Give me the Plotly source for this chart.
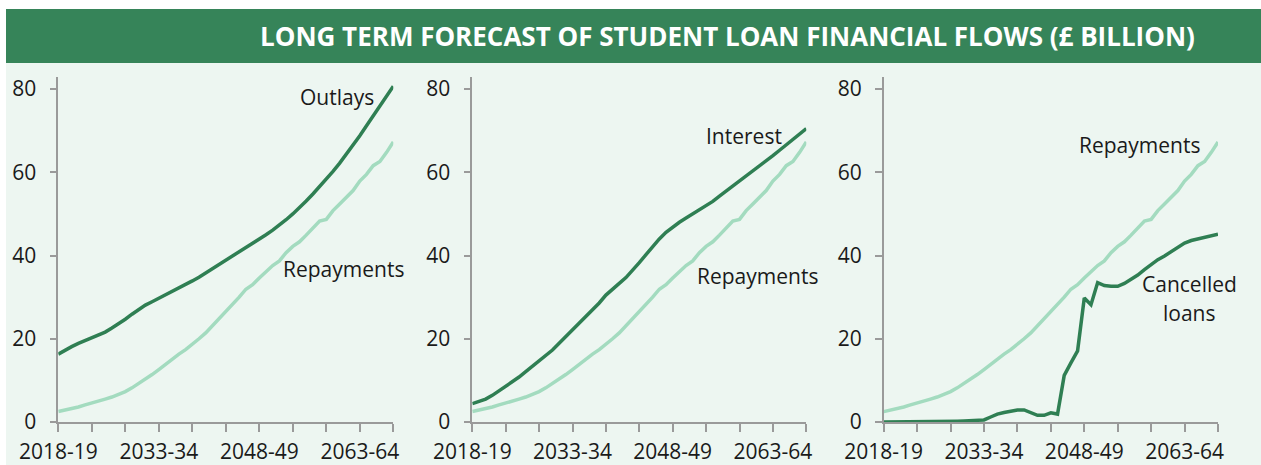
import plotly.graph_objects as go

W, H = 1261, 465

years = [f"{y}-{(y + 1) % 100:02d}" for y in range(2018, 2069)]
tick_labels = ["2018-19", "2033-34", "2048-49", "2063-64"]

outlays = [16.3, 17.3, 18.1, 18.9, 19.6, 20.4, 21.0, 21.6, 22.6, 23.6,
           24.7, 25.9, 27.1, 28.1, 28.9, 29.7, 30.5, 31.3, 32.2, 33.0,
           33.9, 34.8, 35.8, 36.8, 37.8, 38.8, 39.8, 40.9, 41.9, 42.9,
           43.9, 45.0, 46.1, 47.3, 48.6, 50.0, 51.5, 53.1, 54.8, 56.5,
           58.3, 60.2, 62.2, 64.3, 66.5, 68.8, 71.2, 73.6, 76.0, 78.4, 80.7]

repayments = [2.5, 2.8, 3.2, 3.6, 4.1, 4.5, 5.0, 5.5, 6.0, 6.6,
              7.3, 8.2, 9.2, 10.3, 11.4, 12.6, 13.9, 15.1, 16.3, 17.4,
              18.6, 20.0, 21.4, 23.1, 24.8, 26.6, 28.4, 30.0, 31.9, 33.0,
              34.6, 36.0, 37.6, 38.7, 40.7, 42.2, 43.3, 44.9, 46.6, 48.3,
              48.7, 50.8, 52.4, 54.0, 55.6, 57.9, 59.5, 61.6, 62.6, 64.8, 67.3]

interest = [4.4, 4.9, 5.5, 6.4, 7.5, 8.6, 9.6, 10.8, 12.1, 13.4,
            14.7, 16.0, 17.3, 18.9, 20.5, 22.1, 23.7, 25.3, 26.9, 28.6,
            30.5, 32.0, 33.3, 34.7, 36.4, 38.3, 40.2, 42.2, 44.0, 45.6,
            46.9, 48.0, 49.0, 50.0, 50.9, 51.9, 53.0, 54.3, 55.5, 56.7,
            57.9, 59.1, 60.2, 61.4, 62.7, 64.0, 65.3, 66.6, 67.9, 69.2, 70.5]

cancelled = [0.0, 0.0, 0.0, 0.0, 0.0, 0.05, 0.1, 0.1, 0.1, 0.15,
             0.2, 0.2, 0.25, 0.3, 0.4, 0.5, 1.2, 1.9, 2.3, 2.7,
             2.9, 2.9, 2.3, 1.6, 1.6, 2.2, 1.9, 11.2, 14.2, 17.1,
             29.8, 28.2, 33.5, 32.8, 32.6, 32.6, 33.3, 34.3, 35.3, 36.6,
             37.9, 39.0, 39.9, 41.0, 42.1, 43.0, 43.6, 44.0, 44.4, 44.8, 45.1]

DARK = "#2f7f53"
LIGHT = "#a3dbbf"
BAR = "#368459"
BG = "#edf6f1"
AXIS = "#9a9a9a"
FONT = "Open Sans"
TXT = "#1a1a1a"

fig = go.Figure()

panels = [
    (1, [(outlays, DARK), (repayments, LIGHT)]),
    (2, [(interest, DARK), (repayments, LIGHT)]),
    (3, [(repayments, LIGHT), (cancelled, DARK)]),
]
for i, series in panels:
    for vals, col in series:
        fig.add_trace(go.Scatter(
            x=years, y=vals, mode="lines",
            line=dict(color=col, width=3.5),
            xaxis=f"x{i if i > 1 else ''}", yaxis=f"y{i if i > 1 else ''}",
            showlegend=False, hoverinfo="skip"))

x_domains_px = [(58.3, 393.3), (472.3, 806.3), (883.7, 1218.0)]
y_dom = [(H - 422) / H, (H - 77) / H]
tickvals = years[::5]
ticktext = [y if y in tick_labels else "" for y in tickvals]

layout = dict(
    template="none",
    width=W, height=H, autosize=False,
    margin=dict(l=0, r=0, t=0, b=0, pad=0),
    paper_bgcolor="white", plot_bgcolor="rgba(0,0,0,0)",
    font=dict(family=FONT, size=21, color=TXT),
)
for i, (a, b) in enumerate(x_domains_px, start=1):
    sfx = "" if i == 1 else str(i)
    layout[f"xaxis{sfx}"] = dict(
        domain=[a / W, b / W], type="category", range=[0, 50],
        tickmode="array", tickvals=tickvals, ticktext=ticktext,
        showgrid=False, zeroline=False, showline=True, linecolor=AXIS, linewidth=1.5,
        ticks="outside", ticklen=8, tickcolor=AXIS, tickwidth=1.5,
        ticklabelstandoff=2,
        tickfont=dict(family=FONT, size=21, color=TXT),
        anchor=f"y{sfx}", fixedrange=True, automargin=False,
    )
    layout[f"yaxis{sfx}"] = dict(
        domain=y_dom, range=[0, 82.9],
        tickvals=[0, 20, 40, 60, 80],
        showgrid=False, zeroline=False, showline=True, linecolor=AXIS, linewidth=1.5,
        ticks="outside", ticklen=7, tickcolor=AXIS, tickwidth=1.5,
        ticklabelstandoff=9,
        tickfont=dict(family=FONT, size=21, color=TXT),
        anchor=f"x{sfx}", fixedrange=True, automargin=False,
    )
fig.update_layout(**layout)

# background shapes
fig.add_shape(type="rect", xref="paper", yref="paper",
              x0=6 / W, x1=1, y0=0, y1=(H - 63) / H,
              fillcolor=BG, line_width=0, layer="below")
fig.add_shape(type="rect", xref="paper", yref="paper",
              x0=6 / W, x1=1, y0=(H - 63) / H, y1=(H - 9) / H,
              fillcolor=BAR, line_width=0, layer="below")

fig.add_annotation(xref="paper", yref="paper", x=1197 / W, y=(H - 36) / H,
                   xanchor="right", yanchor="middle", showarrow=False,
                   text="<b>LONG TERM FORECAST OF STUDENT LOAN FINANCIAL FLOWS (£ BILLION)</b>",
                   font=dict(family=FONT, size=26, color="white"))

labels = [
    ("x", "y", 41.6, 78.1, "Outlays"),
    ("x", "y", 42.6, 36.8, "Repayments"),
    ("x2", "y2", 40.7, 68.7, "Interest"),
    ("x2", "y2", 42.7, 35.1, "Repayments"),
    ("x3", "y3", 38.3, 66.5, "Repayments"),
    ("x3", "y3", 45.8, 33.2, "Cancelled"),
    ("x3", "y3", 45.8, 26.2, "loans"),
]
for xr, yr, xv, yv, txt in labels:
    fig.add_annotation(xref=xr, yref=yr, x=xv, y=yv, text=txt, showarrow=False,
                       xanchor="center", yanchor="middle",
                       font=dict(family=FONT, size=21, color=TXT))

fig.write_html("out.html", config={"displayModeBar": False},
               post_script="document.body.style.margin='0';document.body.style.overflow='hidden';")
